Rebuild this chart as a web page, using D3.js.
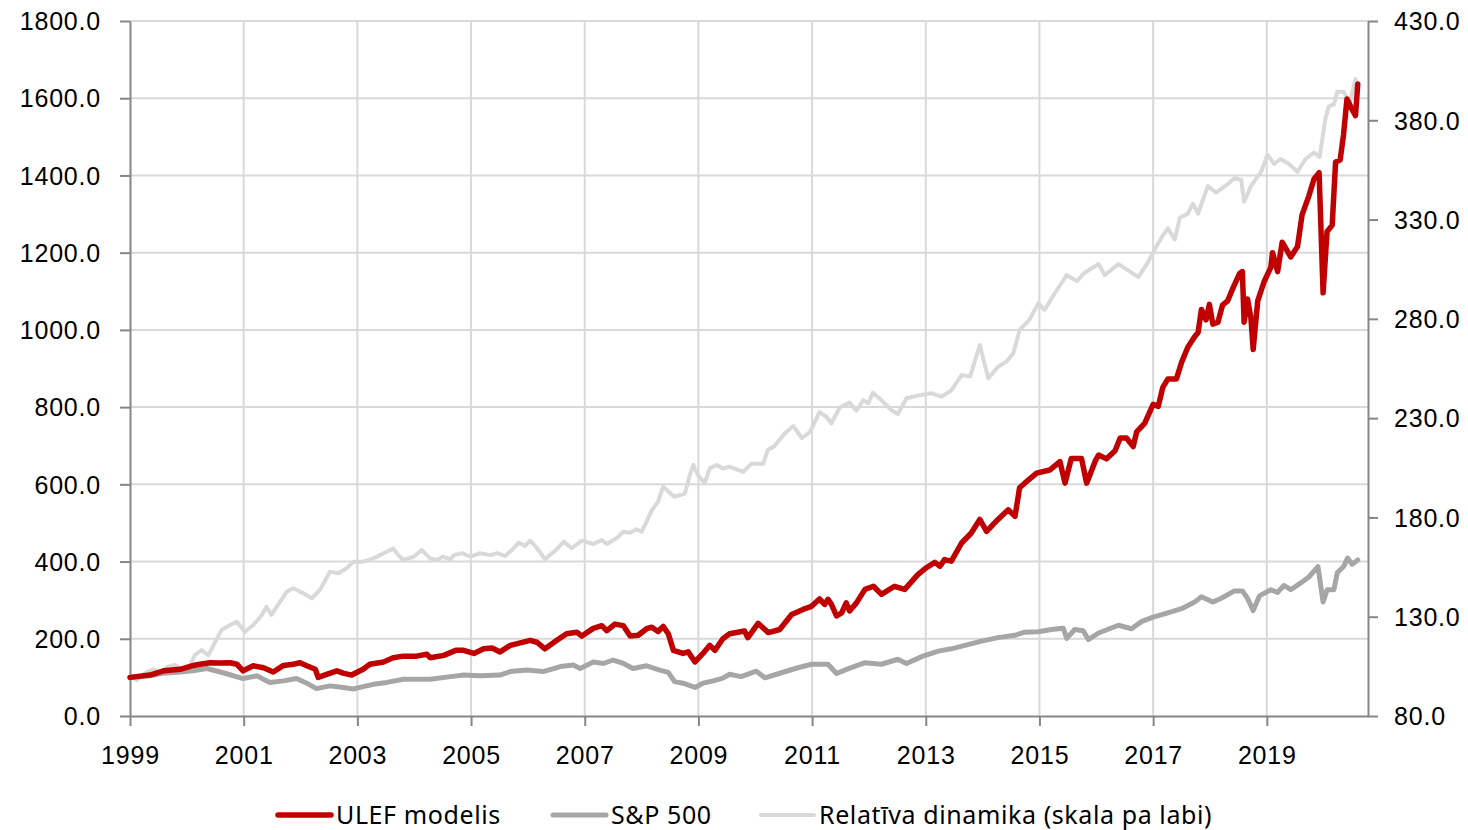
<!DOCTYPE html>
<html>
<head>
<meta charset="utf-8">
<script src="https://cdn.jsdelivr.net/npm/d3@7"></script>
<style>
  body { margin: 0; background: #fff; }
  svg { display: block; font-family: 'Noto Sans', 'Open Sans', sans-serif; }
  .tick text { font-size: 25px; fill: #000; letter-spacing: 0.8px; }
  .legend text { font-size: 25px; fill: #000; letter-spacing: 0.6px; }
</style>
</head>
<body>
<svg width="1468" height="830"></svg>
<script>
  // ULEF modelis (left axis), time in decimal years as drawn
  const ulefT = [1999.0, 1999.35, 1999.59, 1999.88, 2000.09, 2000.23, 2000.41, 2000.58, 2000.76, 2000.88,
    2000.99, 2001.17, 2001.35, 2001.52, 2001.7, 2001.87, 2001.99, 2002.11, 2002.26, 2002.31,
    2002.46, 2002.64, 2002.75, 2002.9, 2003.1, 2003.22, 2003.46, 2003.63, 2003.81, 2004.04,
    2004.22, 2004.28, 2004.52, 2004.73, 2004.87, 2005.05, 2005.22, 2005.37, 2005.51, 2005.69,
    2006.04, 2006.16, 2006.3, 2006.51, 2006.68, 2006.86, 2006.95, 2007.15, 2007.3, 2007.39,
    2007.53, 2007.68, 2007.8, 2007.94, 2008.09, 2008.18, 2008.29, 2008.38, 2008.47, 2008.56,
    2008.73, 2008.82, 2008.94, 2009.08, 2009.2, 2009.29, 2009.43, 2009.55, 2009.81, 2009.87,
    2010.05, 2010.23, 2010.43, 2010.64, 2010.84, 2010.99, 2011.13, 2011.22, 2011.28, 2011.34,
    2011.43, 2011.52, 2011.6, 2011.66, 2011.78, 2011.93, 2012.08, 2012.22, 2012.45, 2012.63,
    2012.86, 2013.01, 2013.16, 2013.25, 2013.33, 2013.45, 2013.63, 2013.8, 2013.95, 2014.07,
    2014.27, 2014.45, 2014.57, 2014.65, 2014.74, 2014.95, 2015.18, 2015.36, 2015.45, 2015.56,
    2015.74, 2015.83, 2015.98, 2016.04, 2016.18, 2016.33, 2016.42, 2016.53, 2016.65, 2016.71,
    2016.85, 2017.0, 2017.09, 2017.17, 2017.26, 2017.41, 2017.5, 2017.61, 2017.73, 2017.79,
    2017.85, 2017.93, 2017.99, 2018.05, 2018.14, 2018.22, 2018.31, 2018.4, 2018.52, 2018.57,
    2018.6, 2018.66, 2018.72, 2018.76, 2018.84, 2018.95, 2019.07, 2019.1, 2019.19, 2019.27,
    2019.42, 2019.54, 2019.62, 2019.74, 2019.83, 2019.92, 2019.99, 2020.06, 2020.15, 2020.21,
    2020.29, 2020.35, 2020.41, 2020.5, 2020.56, 2020.6];
  const ulefV = [100, 106, 117, 121, 130, 134, 138, 137, 138, 134,
    117, 130, 125, 114, 131, 134, 138, 130, 121, 100,
    108, 117, 111, 106, 121, 134, 140, 151, 155, 155,
    160, 151, 157, 170, 170, 162, 174, 176, 166, 183,
    196, 191, 174, 196, 213, 217, 207, 227, 234, 221,
    238, 234, 207, 209, 226, 230, 219, 232, 213, 170,
    162, 166, 140, 162, 183, 170, 200, 213, 220, 203,
    240, 216, 224, 263, 276, 284, 303, 289, 302, 289,
    259, 267, 293, 272, 293, 328, 336, 315, 336, 328,
    366, 384, 398, 388, 405, 401, 448, 474, 509, 478,
    509, 534, 517, 591, 603, 629, 637, 659, 603, 667,
    667, 603, 660, 676, 666, 687, 720, 720, 698, 736,
    758, 807, 802, 851, 873, 873, 916, 955, 982, 993,
    1053, 1026, 1066, 1015, 1020, 1064, 1075, 1107, 1146, 1151,
    1020, 1080, 1031, 949, 1075, 1124, 1162, 1200, 1151, 1227,
    1189, 1216, 1298, 1347, 1391, 1407, 1096, 1255, 1271, 1435,
    1440, 1506, 1598, 1571, 1555, 1637];

  // S&P 500 (left axis)
  const spxT = [1999.0, 1999.35, 1999.59, 1999.88, 2000.11, 2000.35, 2000.64, 2000.99, 2001.23, 2001.46,
    2001.7, 2001.93, 2002.11, 2002.28, 2002.52, 2002.75, 2002.93, 2003.1, 2003.28, 2003.52,
    2003.81, 2004.28, 2004.64, 2004.87, 2005.16, 2005.51, 2005.69, 2005.98, 2006.27, 2006.57,
    2006.8, 2006.92, 2007.15, 2007.33, 2007.5, 2007.68, 2007.85, 2008.09, 2008.32, 2008.47,
    2008.58, 2008.73, 2008.94, 2009.08, 2009.26, 2009.43, 2009.55, 2009.75, 2010.02, 2010.17,
    2010.46, 2010.75, 2010.99, 2011.28, 2011.43, 2011.63, 2011.93, 2012.22, 2012.51, 2012.66,
    2012.95, 2013.22, 2013.45, 2013.74, 2013.98, 2014.27, 2014.57, 2014.74, 2014.98, 2015.21,
    2015.42, 2015.48, 2015.62, 2015.77, 2015.86, 2016.04, 2016.39, 2016.62, 2016.8, 2017.0,
    2017.26, 2017.5, 2017.73, 2017.85, 2018.05, 2018.2, 2018.43, 2018.57, 2018.66, 2018.76,
    2018.87, 2019.07, 2019.19, 2019.3, 2019.42, 2019.59, 2019.74, 2019.9, 2019.99, 2020.06,
    2020.18, 2020.24, 2020.35, 2020.42, 2020.5, 2020.6];
  const spxV = [100, 104, 111, 114, 117, 123, 112, 97, 104, 87,
    91, 97, 85, 71, 78, 74, 70, 76, 82, 87,
    95, 95, 102, 106, 104, 106, 115, 119, 115, 128,
    132, 123, 140, 136, 145, 136, 123, 130, 119, 113,
    89, 85, 74, 85, 91, 98, 108, 102, 116, 99,
    112, 125, 134, 134, 110, 122, 138, 134, 147, 136,
    155, 168, 174, 185, 194, 203, 209, 217, 218, 224,
    227, 201, 224, 221, 198, 215, 235, 226, 245, 256,
    267, 278, 295, 309, 295, 305, 324, 324, 305, 273,
    311, 327, 320, 338, 327, 344, 360, 387, 295, 327,
    327, 371, 387, 409, 393, 404];

  // Relatīva dinamika (right axis)
  const relT = [1999.0, 1999.12, 1999.26, 1999.41, 1999.53, 1999.67, 1999.79, 1999.91, 2000.06, 2000.14,
    2000.26, 2000.38, 2000.5, 2000.61, 2000.76, 2000.88, 2001.02, 2001.17, 2001.32, 2001.4,
    2001.49, 2001.64, 2001.76, 2001.87, 2002.05, 2002.2, 2002.34, 2002.52, 2002.67, 2002.81,
    2002.93, 2003.1, 2003.28, 2003.46, 2003.63, 2003.72, 2003.81, 2003.99, 2004.13, 2004.28,
    2004.41, 2004.5, 2004.64, 2004.7, 2004.84, 2004.99, 2005.16, 2005.34, 2005.46, 2005.6,
    2005.72, 2005.84, 2005.95, 2006.04, 2006.16, 2006.3, 2006.51, 2006.63, 2006.77, 2006.95,
    2007.15, 2007.3, 2007.39, 2007.56, 2007.68, 2007.8, 2007.91, 2008.0, 2008.09, 2008.18,
    2008.29, 2008.38, 2008.47, 2008.58, 2008.76, 2008.85, 2008.91, 2008.99, 2009.11, 2009.2,
    2009.32, 2009.43, 2009.55, 2009.79, 2009.93, 2010.14, 2010.22, 2010.34, 2010.52, 2010.67,
    2010.82, 2010.96, 2011.13, 2011.25, 2011.34, 2011.49, 2011.66, 2011.78, 2011.9, 2011.99,
    2012.07, 2012.22, 2012.4, 2012.51, 2012.66, 2012.92, 2013.1, 2013.28, 2013.45, 2013.63,
    2013.78, 2013.95, 2014.1, 2014.27, 2014.42, 2014.54, 2014.65, 2014.82, 2014.98, 2015.09,
    2015.27, 2015.48, 2015.66, 2015.78, 2016.04, 2016.15, 2016.39, 2016.56, 2016.74, 2016.91,
    2017.03, 2017.15, 2017.26, 2017.38, 2017.47, 2017.61, 2017.7, 2017.79, 2017.96, 2018.11,
    2018.31, 2018.43, 2018.55, 2018.6, 2018.72, 2018.9, 2019.01, 2019.13, 2019.24, 2019.39,
    2019.54, 2019.68, 2019.83, 2019.93, 2020.03, 2020.09, 2020.18, 2020.24, 2020.35, 2020.46,
    2020.56, 2020.59];
  const relV = [100, 98.1, 101.5, 103.5, 101.8, 104.8, 105.7, 103.2, 105.7, 110.7,
    113.2, 110.7, 117.4, 123.3, 125.8, 127.5, 122.4, 125.8, 130.9, 135,
    130.9, 137.6, 142.6, 144.3, 141.8, 139.3, 143.5, 152.7, 151.9, 154.4,
    157.7, 157.7, 159.4, 161.9, 164.4, 161, 158.6, 160.2, 163.6, 159.4,
    158.6, 160.2, 159, 161, 162, 160.2, 162, 161, 162, 160.6,
    163.6, 167.3, 165.6, 168.3, 164.5, 159, 164, 167.8, 164.5, 168.3,
    166.6, 168.6, 166.6, 169.5, 172.8, 172.3, 174, 172.8, 177.9, 183.7,
    187.9, 195.5, 193, 190.4, 192, 201.4, 206.4, 201.4, 197.2, 204.7,
    206.4, 204.7, 205.5, 203, 207, 207, 214, 216, 222.4, 226,
    220, 223, 233, 230.7, 227.4, 235.5, 237.8, 233.8, 239, 237.5,
    242.8, 239, 234, 232, 240, 241.7, 242.5, 240.8, 244, 251.7,
    250.9, 266.8, 250, 255.9, 258.4, 262.7, 274.4, 279.4, 287.8, 284.5,
    292.9, 302, 299, 303, 307.6, 302, 307.6, 304.4, 301, 308.6,
    315, 321, 325.6, 320, 330.9, 333, 338, 333, 346.8, 343.6,
    347.8, 351, 350, 339, 346.8, 354, 362.7, 358, 360.5, 358,
    354, 360.5, 363.7, 361.6, 380.7, 387, 388, 394.4, 394.4, 389,
    400.8, 397.6];

  const yearTicks = [1999, 2001, 2003, 2005, 2007, 2009, 2011, 2013, 2015, 2017, 2019];
  const leftTicks = [0, 200, 400, 600, 800, 1000, 1200, 1400, 1600, 1800];
  const rightTicks = [80, 130, 180, 230, 280, 330, 380, 430];

  const svg = d3.select('svg');
  const width = +svg.attr('width');
  const height = +svg.attr('height');
  const margin = { top: 21, right: 100, bottom: 114, left: 130 };
  const innerWidth = width - margin.left - margin.right;
  const innerHeight = height - margin.top - margin.bottom;

  const xScale = d3.scaleLinear()
    .domain([1999, 2020.78])
    .range([0, innerWidth]);
  const yLeft = d3.scaleLinear()
    .domain([0, 1800])
    .range([innerHeight, 0]);
  const yRight = d3.scaleLinear()
    .domain([80, 430])
    .range([innerHeight, 0]);

  const g = svg.append('g')
    .attr('transform', `translate(${margin.left},${margin.top})`);

  // grid
  g.append('g')
    .selectAll('line').data(leftTicks.slice(1))
    .enter().append('line')
      .attr('x1', 0).attr('x2', innerWidth)
      .attr('y1', d => yLeft(d)).attr('y2', d => yLeft(d))
      .attr('stroke', '#d9d9d9').attr('stroke-width', 2);
  g.append('g')
    .selectAll('line').data(yearTicks.slice(1))
    .enter().append('line')
      .attr('x1', d => xScale(d)).attr('x2', d => xScale(d))
      .attr('y1', 0).attr('y2', innerHeight)
      .attr('stroke', '#d9d9d9').attr('stroke-width', 2);

  const styleAxis = sel => {
    sel.selectAll('.domain').attr('stroke', '#868686').attr('stroke-width', 2);
    sel.selectAll('.tick line').attr('stroke', '#868686').attr('stroke-width', 2);
  };

  g.append('g')
    .call(d3.axisLeft(yLeft).tickValues(leftTicks).tickFormat(d3.format('.1f'))
      .tickSize(10).tickSizeOuter(0).tickPadding(19))
    .call(styleAxis)
    .selectAll('text').attr('dy', '0.35em');

  g.append('g')
    .attr('transform', `translate(${innerWidth},0)`)
    .call(d3.axisRight(yRight).tickValues(rightTicks).tickFormat(d3.format('.1f'))
      .tickSize(10).tickSizeOuter(0).tickPadding(16))
    .call(styleAxis)
    .selectAll('text').attr('dy', '0.35em');

  g.append('g')
    .attr('transform', `translate(0,${innerHeight})`)
    .call(d3.axisBottom(xScale).tickValues(yearTicks).tickFormat(d3.format('d'))
      .tickSize(10).tickSizeOuter(0).tickPadding(20))
    .call(styleAxis);

  const series = [
    { t: relT, v: relV, y: yRight, color: '#d9d9d9', w: 4 },
    { t: spxT, v: spxV, y: yLeft, color: '#a6a6a6', w: 5 },
    { t: ulefT, v: ulefV, y: yLeft, color: '#c00000', w: 5.5 }
  ];

  series.forEach(s => {
    const line = d3.line()
      .x((d, i) => xScale(s.t[i]))
      .y(d => s.y(d));
    g.append('path')
      .datum(s.v)
      .attr('fill', 'none')
      .attr('stroke', s.color)
      .attr('stroke-width', s.w)
      .attr('stroke-linejoin', 'round')
      .attr('stroke-linecap', 'round')
      .attr('d', line);
  });

  // legend
  const legendItems = [
    { label: 'ULEF modelis', color: '#c00000', w: 5.5, x: 278 },
    { label: 'S&P 500', color: '#a6a6a6', w: 5, x: 553 },
    { label: 'Relatīva dinamika (skala pa labi)', color: '#d9d9d9', w: 4, x: 761 }
  ];
  const legend = svg.append('g').attr('class', 'legend');
  const item = legend.selectAll('g').data(legendItems)
    .enter().append('g')
      .attr('transform', d => `translate(${d.x},815)`);
  item.append('line')
    .attr('x1', 0).attr('x2', 53)
    .attr('stroke', d => d.color)
    .attr('stroke-width', d => d.w)
    .attr('stroke-linecap', 'round');
  item.append('text')
    .attr('x', 58)
    .attr('dy', '0.35em')
    .text(d => d.label);
</script>
</body>
</html>
